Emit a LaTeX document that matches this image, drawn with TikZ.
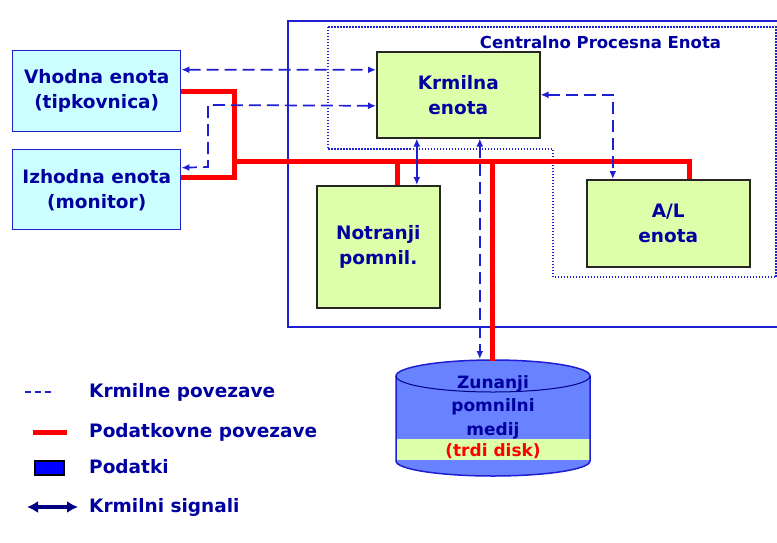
\documentclass[tikz,border=0pt]{standalone}
\usepackage{fontspec}
\setmainfont{DejaVu Sans}
\usetikzlibrary{arrows.meta,calc}
\definecolor{txtblue}{RGB}{0,0,160}
\definecolor{lineblue}{RGB}{30,30,210}
\definecolor{cyanfill}{RGB}{204,255,255}
\definecolor{greenfill}{RGB}{221,255,170}
\definecolor{diskblue}{RGB}{105,130,255}
\definecolor{busred}{RGB}{255,0,0}
\definecolor{navyblue}{RGB}{0,0,128}
\definecolor{legendblue}{RGB}{0,0,255}
\begin{document}
\begin{tikzpicture}[x=1pt,y=-1pt,
  lbl/.style={font=\bfseries\fontsize{18.5}{25}\selectfont, text=txtblue, align=center},
  iobox/.style={draw=lineblue, line width=1.4pt, fill=cyanfill, lbl, anchor=north west, inner sep=0pt},
  unitbox/.style={draw=black!85, line width=1.6pt, fill=greenfill, lbl, anchor=north west, inner sep=0pt},
  ctrl/.style={draw=lineblue, line width=1.7pt, dash pattern=on 12pt off 6pt},
  sig/.style={{Latex[length=8pt,width=7pt]}-{Latex[length=8pt,width=7pt]}},
  bus/.style={draw=busred, line width=5pt, line join=miter},
  legtext/.style={font=\bfseries\fontsize{18.5}{22}\selectfont, text=txtblue, anchor=west, inner sep=0pt},
  disktext/.style={font=\bfseries\fontsize{17}{23.5}\selectfont, text=txtblue, align=center, inner sep=0pt},
]
\useasboundingbox (0,0) rectangle (777,542);
\fill[white] (0,0) rectangle (777,542);

% CPU frame and the dotted boundary of the central processing unit
\draw[lineblue, line width=1.5pt] (777,21) -- (288,21) -- (288,327) -- (777,327);
\draw[lineblue, line width=1.5pt, dash pattern=on 1.5pt off 1.5pt]
  (328,27) -- (776,27) -- (776,277) -- (553,277) -- (553,149) -- (328,149) -- cycle;
\node[font=\bfseries\fontsize{16.5}{20}\selectfont, text=txtblue, inner sep=0pt] (cpu) at (600.5,42) {Centralno Procesna Enota};

% units
\node[iobox, minimum width=168pt, minimum height=81pt] (vh) at (12,50) {Vhodna enota\\(tipkovnica)};
\node[iobox, minimum width=168pt, minimum height=80pt] (iz) at (12,149) {Izhodna enota\\(monitor)};
\node[unitbox, minimum width=163pt, minimum height=86pt] (kr) at (376,51) {Krmilna\\enota};
\node[unitbox, minimum width=123pt, minimum height=122pt] (no) at (316,185) {Notranji\\pomnil.};
\node[unitbox, minimum width=163pt, minimum height=87pt] (al) at (586,179) {A/L\\enota};

% external storage (cylinder)
\fill[diskblue] (493,461) ellipse [x radius=97pt, y radius=15pt];
\fill[diskblue] (396,376) rectangle (590,461);
\fill[greenfill] (396,439) rectangle (590,460);
\fill[diskblue] (493,376) ellipse [x radius=97pt, y radius=16pt];
\draw[lineblue, line width=1.5pt] (396,376) -- (396,461)
  arc[start angle=180, end angle=360, x radius=97pt, y radius=15pt] -- (590,376)
  arc[start angle=0, end angle=180, x radius=97pt, y radius=16pt];
\draw[navyblue, line width=1pt] (396,376) arc[start angle=180, end angle=360, x radius=97pt, y radius=16pt];
\node[disktext] (disk) at (493,407) {Zunanji\\pomnilni\\medij};
\node[disktext, text=busred] (hdd) at (493,451) {(trdi disk)};
\coordinate (dtop) at (479,359);
\coordinate (dbus) at (492,361);

% data bus
\coordinate (busL) at (234,161);
\coordinate (izR) at ([yshift=12pt]iz.east);
\draw[bus] (vh.east) -| (busL) |- (izR);
\draw[bus] (busL) -| ([xshift=21.5pt]al.north);
\draw[bus] ([xshift=19.5pt]no.north) -- ([xshift=19.5pt]no.north |- busL);
\draw[bus] (dbus) -- (dbus |- busL);

% control links
\coordinate (jogA) at (208,105);
\coordinate (jogB) at (208,167);
\draw[ctrl, sig] ([yshift=21.5pt]vh.east) -- ([yshift=25pt]kr.west);
\draw[ctrl, sig] ([yshift=-11pt]kr.west) -- (jogA) -- (jogB) -- ([yshift=22pt]iz.east);
\draw[ctrl, sig] (kr.east) -| ([xshift=-55.5pt]al.north);
\draw[ctrl, sig] ([xshift=21.5pt]kr.south) -- ([xshift=21.5pt]kr.south |- dtop);
\draw[lineblue, line width=1.7pt, sig] ([xshift=-41.5pt]kr.south) -- ([xshift=-41.5pt]kr.south |- no.north);

% legend
\draw[lineblue, line width=1.7pt, dash pattern=on 6pt off 4pt] (25,392) -- (55,392);
\node[legtext] (l1) at (89,392) {Krmilne povezave};
\draw[busred, line width=5pt] (33,432) -- (67,432);
\node[legtext] (l2) at (89,432) {Podatkovne povezave};
\draw[black, line width=1.4pt, fill=legendblue] (35,461) rectangle (64,475);
\node[legtext] (l3) at (89,467) {Podatki};
\draw[navyblue, line width=3.5pt, {Latex[length=11pt,width=12pt]}-{Latex[length=11pt,width=12pt]}] (27,507) -- (78,507);
\node[legtext] (l4) at (89,507) {Krmilni signali};
\end{tikzpicture}
\end{document}
